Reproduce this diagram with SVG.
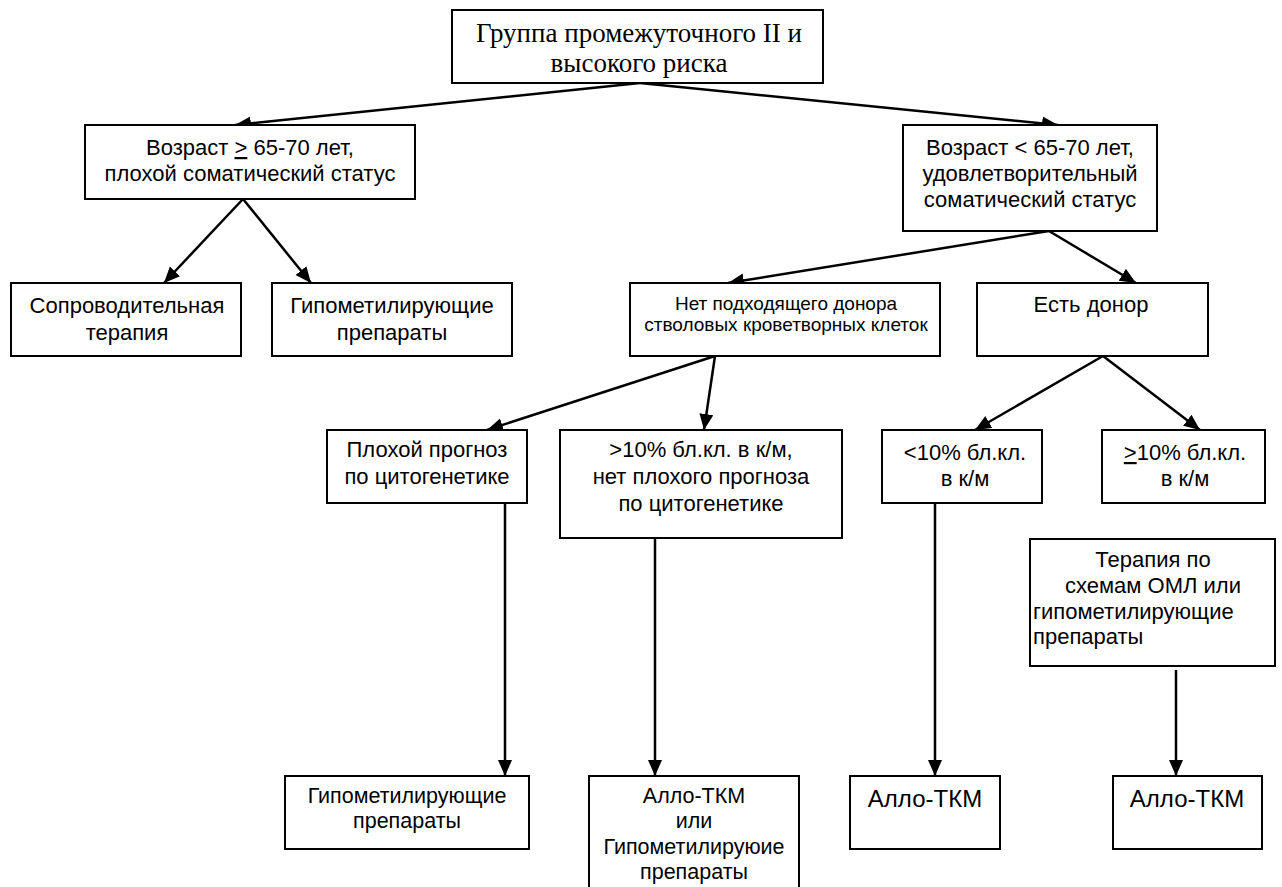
<svg xmlns="http://www.w3.org/2000/svg" width="1282" height="887" viewBox="0 0 1282 887">
<style>
.box{fill:#fff;stroke:#000;stroke-width:2}
.c{stroke:#000;stroke-width:2.5;fill:none;marker-end:url(#ah)}
.t{font-family:"Liberation Sans",Arial,sans-serif;font-size:22px;text-anchor:middle;fill:#000}
.s{font-size:19px}
.m{font-size:21.5px}
.b{font-size:24px}
.l{text-anchor:start}
.tr{font-family:"Liberation Serif","Times New Roman",serif;font-size:27px;text-anchor:middle;fill:#000}
</style>
<defs>
<marker id="ah" markerUnits="userSpaceOnUse" markerWidth="17" markerHeight="15" refX="16" refY="7" orient="auto">
<path d="M0,0 L16,7 L0,14 Z" fill="#000"/>
</marker>
</defs>
<rect width="1282" height="887" fill="#fff"/>
<g id="connectors">
<line class="c" x1="640" y1="83" x2="235" y2="125"/>
<line class="c" x1="640" y1="83" x2="1058" y2="125"/>
<line class="c" x1="243" y1="199" x2="164" y2="283"/>
<line class="c" x1="243" y1="199" x2="311" y2="283"/>
<line class="c" x1="1049" y1="231" x2="728" y2="283"/>
<line class="c" x1="1049" y1="231" x2="1136" y2="283"/>
<line class="c" x1="715" y1="356" x2="487" y2="430"/>
<line class="c" x1="715" y1="356" x2="704" y2="430"/>
<line class="c" x1="1103" y1="356" x2="975" y2="430"/>
<line class="c" x1="1103" y1="356" x2="1200" y2="430"/>
<line class="c" x1="505" y1="503" x2="505" y2="776"/>
<line class="c" x1="655" y1="538" x2="655" y2="776"/>
<line class="c" x1="935" y1="503" x2="935" y2="776"/>
<line class="c" x1="1176" y1="670" x2="1176" y2="776"/>
</g>
<g id="n0"><rect class="box" x="452" y="10" width="371" height="73"/>
<text class="tr" x="639" y="42">Группа промежуточного II и</text>
<text class="tr" x="639" y="72">высокого риска</text></g>
<g id="n1"><rect class="box" x="85" y="125" width="330" height="74"/>
<text class="t" x="250" y="155">Возраст <tspan text-decoration="underline">&gt;</tspan> 65-70 лет,</text>
<text class="t" x="250" y="181">плохой соматический статус</text></g>
<g id="n2"><rect class="box" x="903" y="125" width="254" height="106"/>
<text class="t" x="1030" y="155">Возраст &lt; 65-70 лет,</text>
<text class="t" x="1030" y="181">удовлетворительный</text>
<text class="t" x="1030" y="207">соматический статус</text></g>
<g id="n3"><rect class="box" x="11" y="283" width="230" height="73"/>
<text class="t" x="127" y="313">Сопроводительная</text>
<text class="t" x="127" y="340">терапия</text></g>
<g id="n4"><rect class="box" x="272" y="283" width="240" height="73"/>
<text class="t" x="392" y="313">Гипометилирующие</text>
<text class="t" x="392" y="340">препараты</text></g>
<g id="n5"><rect class="box" x="630" y="283" width="310" height="73"/>
<text class="t s" x="786" y="310">Нет подходящего донора</text>
<text class="t s" x="786" y="331">стволовых кроветворных клеток</text></g>
<g id="n6"><rect class="box" x="977" y="283" width="231" height="73"/>
<text class="t" x="1091" y="312">Есть донор</text></g>
<g id="n7"><rect class="box" x="327" y="430" width="200" height="73"/>
<text class="t" x="427" y="457">Плохой прогноз</text>
<text class="t" x="427" y="484">по цитогенетике</text></g>
<g id="n8"><rect class="box" x="560" y="430" width="282" height="108"/>
<text class="t" x="701" y="457">&gt;10% бл.кл. в к/м,</text>
<text class="t" x="701" y="484">нет плохого прогноза</text>
<text class="t" x="701" y="511">по цитогенетике</text></g>
<g id="n9"><rect class="box" x="882" y="430" width="160" height="73"/>
<text class="t" x="965" y="460">&lt;10% бл.кл.</text>
<text class="t" x="965" y="486">в к/м</text></g>
<g id="n10"><rect class="box" x="1102" y="430" width="163" height="73"/>
<text class="t" x="1185" y="460"><tspan text-decoration="underline">&gt;</tspan>10% бл.кл.</text>
<text class="t" x="1185" y="486">в к/м</text></g>
<g id="n11"><rect class="box" x="1030" y="539" width="245" height="127"/>
<text class="t" x="1153" y="567" font-size="23">Терапия по</text>
<text class="t" x="1153" y="593" font-size="23">схемам ОМЛ или</text>
<text class="t l" x="1033" y="619" font-size="23">гипометилирующие</text>
<text class="t l" x="1033" y="644" font-size="23">препараты</text></g>
<g id="n12"><rect class="box" x="285" y="776" width="244" height="73"/>
<text class="t m" x="407" y="803">Гипометилирующие</text>
<text class="t m" x="407" y="828">препараты</text></g>
<g id="n13"><rect class="box" x="589" y="776" width="210" height="125"/>
<text class="t m" x="694" y="803">Алло-ТКМ</text>
<text class="t m" x="694" y="828">или</text>
<text class="t m" x="694" y="854">Гипометилируюие</text>
<text class="t m" x="694" y="879">препараты</text></g>
<g id="n14"><rect class="box" x="850" y="776" width="150" height="73"/>
<text class="t b" x="925" y="807">Алло-ТКМ</text></g>
<g id="n15"><rect class="box" x="1113" y="776" width="149" height="73"/>
<text class="t b" x="1187" y="807">Алло-ТКМ</text></g>
</svg>
